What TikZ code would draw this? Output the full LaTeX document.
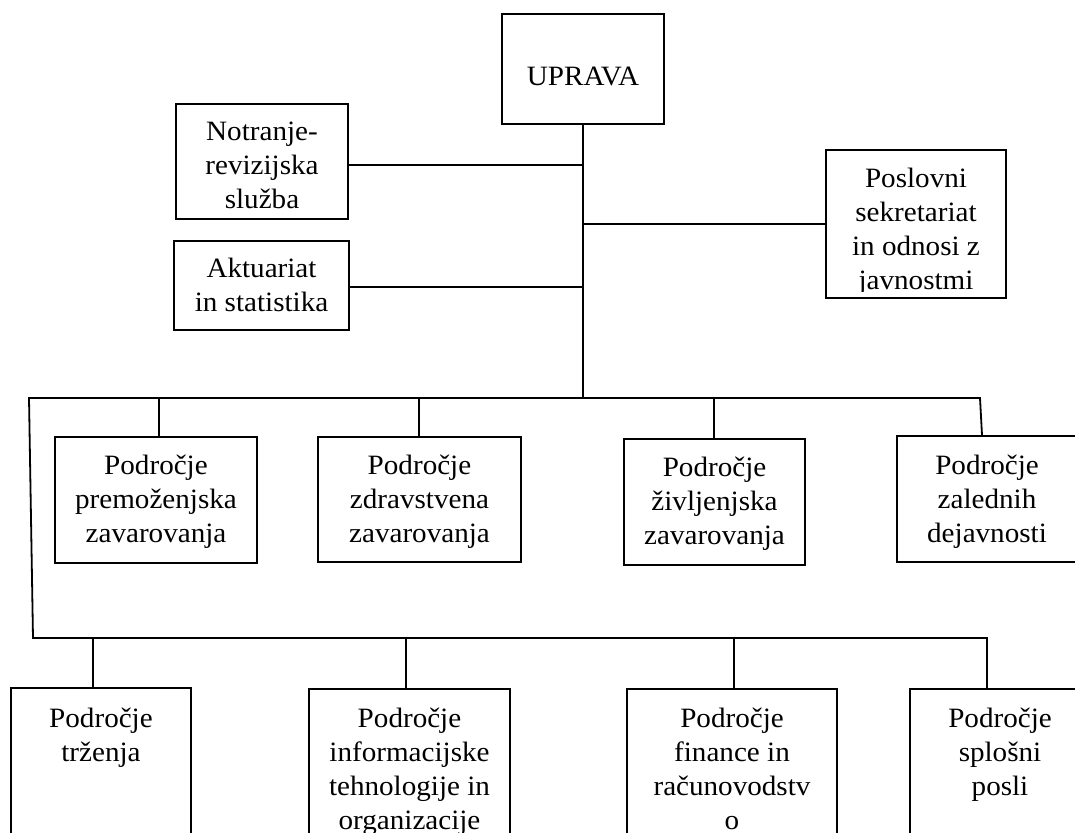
\documentclass[tikz,border=0pt]{standalone}
\usepackage{fontspec}
\setmainfont{Liberation Serif}[FakeStretch=1.04]
\newcommand\orglines[1]{\begin{tabular}[t]{@{}c@{}}#1\end{tabular}}
\begin{document}
\begin{tikzpicture}[x=1pt,y=-1pt,
  orgbox/.style={draw, line width=1.8pt, rectangle, inner sep=0pt},
  orgtext/.style={anchor=base, inner sep=0pt, font=\fontsize{28}{34.3}\selectfont},
  conn/.style={line width=1.8pt}]
\useasboundingbox (0,0) rectangle (1075,832);
\clip (0,0) rectangle (1075,832);

% boxes
\node[orgbox, minimum width=162, minimum height=110] (upr) at (583,69) {};
\node[orgbox, minimum width=172, minimum height=115] (notr) at (262,161.5) {};
\node[orgbox, minimum width=175, minimum height=89] (akt) at (261.5,285.5) {};
\node[orgbox, minimum width=180, minimum height=148] (posl) at (916,224) {};
\node[orgbox, minimum width=202, minimum height=126] (prem) at (156,500) {};
\node[orgbox, minimum width=203, minimum height=125] (zdr) at (419.5,499.5) {};
\node[orgbox, minimum width=181, minimum height=126] (ziv) at (714.5,502) {};
\node[orgbox, minimum width=180, minimum height=126] (zal) at (987,499) {};
\node[orgbox, minimum width=180, minimum height=200] (trz) at (101,788) {};
\node[orgbox, minimum width=201, minimum height=200] (inf) at (409.5,789) {};
\node[orgbox, minimum width=210, minimum height=200] (fin) at (732,789) {};
\node[orgbox, minimum width=180, minimum height=200] (spl) at (1000,789) {};

% texts
\node[orgtext] (uprT) at (583,86) {UPRAVA};
\node[orgtext] (notrT) at (262,140) {\orglines{Notranje-\\revizijska\\služba}};
\node[orgtext] (aktT) at (261.5,277) {\orglines{Aktuariat\\in statistika}};
\begin{scope}
  \clip (posl.north west) rectangle ([yshift=7pt]posl.south east);
  \node[orgtext] (poslT) at (916,187) {\orglines{Poslovni\\sekretariat\\in odnosi z\\javnostmi}};
\end{scope}
\node[orgtext] (premT) at (156,474) {\orglines{Področje\\premoženjska\\zavarovanja}};
\node[orgtext] (zdrT) at (419.5,474) {\orglines{Področje\\zdravstvena\\zavarovanja}};
\node[orgtext] (zivT) at (714.5,476) {\orglines{Področje\\življenjska\\zavarovanja}};
\node[orgtext] (zalT) at (987,474) {\orglines{Področje\\zalednih\\dejavnosti}};
\node[orgtext] (trzT) at (101,727) {\orglines{Področje\\trženja}};
\node[orgtext] (infT) at (409.5,727) {\orglines{Področje\\informacijske\\tehnologije in\\organizacije}};
\node[orgtext] (finT) at (732,727) {\orglines{Področje\\finance in\\računovodstv\\o}};
\node[orgtext] (splT) at (1000,727) {\orglines{Področje\\splošni\\posli}};

% connectors
\coordinate (b1L) at (29,398);
\coordinate (b1R) at (980,398);
\coordinate (b2L) at (33,638);
\coordinate (b2R) at (987,638);
\coordinate (n1) at ([yshift=-3.5pt]notr.east);
\coordinate (a1) at ([yshift=-1.5pt]akt.east);
\coordinate (d1) at ([xshift=3pt]prem.north);
\coordinate (d2) at ([xshift=-0.5pt]zdr.north);
\coordinate (d3) at ([xshift=-0.5pt]ziv.north);
\coordinate (d4) at ([xshift=-5pt]zal.north);
\coordinate (e1) at ([xshift=-8pt]trz.north);
\coordinate (e2) at ([xshift=-3.5pt]inf.north);
\coordinate (e3) at ([xshift=2pt]fin.north);

\draw[conn] (upr.south) -- (upr.south |- b1L);
\draw[conn] (n1) -- (n1 -| upr.south);
\draw[conn] (a1) -- (a1 -| upr.south);
\draw[conn] (posl.west) -- (posl.west -| upr.south);
\draw[conn] (d4) -- (b1R) -- (b1L) -- (b2L) -- (b2R) -- (b2R |- spl.north);
\draw[conn] (d1) -- (d1 |- b1L);
\draw[conn] (d2) -- (d2 |- b1L);
\draw[conn] (d3) -- (d3 |- b1L);
\draw[conn] (e1) -- (e1 |- b2L);
\draw[conn] (e2) -- (e2 |- b2L);
\draw[conn] (e3) -- (e3 |- b2L);
\end{tikzpicture}
\end{document}
